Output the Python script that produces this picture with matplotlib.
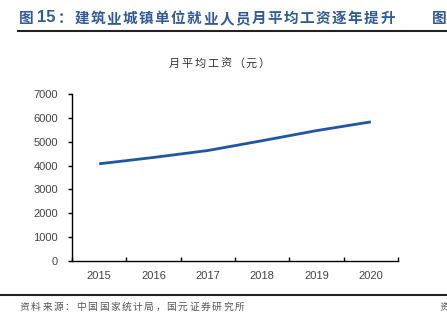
import matplotlib
matplotlib.use("Agg")
import matplotlib.pyplot as plt
from matplotlib.lines import Line2D

plt.rcParams['font.family'] = ['Noto Sans CJK SC', 'DejaVu Sans']

years = ["2015", "2016", "2017", "2018", "2019", "2020"]
wages = [4074, 4340, 4631, 5042, 5465, 5832]
yticks = [0, 1000, 2000, 3000, 4000, 5000, 6000, 7000]

W, H = 447, 326
fig = plt.figure(figsize=(W / 100, H / 100), dpi=100)


def fx(px):
    return px / W


def fy(py):
    return 1 - py / H


def spaced(text, x_center0, pitch, y, **kw):
    for i, ch in enumerate(text):
        fig.text(fx(x_center0 + pitch * i), fy(y), ch, ha="center", va="center", **kw)


ax = fig.add_axes([fx(72), fy(261), fx(398) - fx(72), fy(94) - fy(261)])
x = list(range(len(years)))
ax.plot(x, wages, color="#1F56A8", lw=2.0, solid_capstyle="butt")
ax.set_xlim(-0.5, len(years) - 0.5)
ax.set_ylim(0, 7000)
ax.set_yticks(yticks)
ax.set_yticklabels([str(v) for v in yticks], fontsize=8, color="#444444",
                   family=["Liberation Sans", "DejaVu Sans"])
ax.set_xticks([i - 0.5 for i in range(len(years) + 1)])
ax.set_xticklabels([])
ax.set_xticks(x, minor=True)
ax.set_xticklabels(years, minor=True, fontsize=8, color="#444444",
                   family=["Liberation Sans", "DejaVu Sans"])
ax.tick_params(axis="x", which="major", direction="in", length=3, width=1, color="black")
ax.tick_params(axis="x", which="minor", length=0, pad=7)
ax.tick_params(axis="y", direction="out", length=3, width=1, color="black", pad=7)
for s in ["top", "right"]:
    ax.spines[s].set_visible(False)
for s in ["left", "bottom"]:
    ax.spines[s].set_linewidth(1.0)
    ax.spines[s].set_color("black")

# chart title
spaced("月平均工资（元）", 174, 12.9, 64, fontsize=8, color="#333333")

# page heading
blue = "#2F5A9C"
fig.text(fx(26), fy(18), "图", ha="center", va="center", fontsize=10.5,
         fontweight="bold", color=blue)
fig.text(fx(37.5), fy(18), "15", ha="left", va="center", fontsize=12,
         fontweight="bold", color=blue, family=["Liberation Sans", "DejaVu Sans"])
fig.text(fx(65), fy(18), "：", ha="center", va="center", fontsize=10.5,
         fontweight="bold", color=blue)
spaced("建筑业城镇单位就业人员月平均工资逐年提升", 81.5, 16.1, 18,
       fontsize=10.5, fontweight="bold", color=blue)
fig.text(fx(432), fy(18), "图", ha="left", va="center", fontsize=10.5,
         fontweight="bold", color=blue)

fig.add_artist(Line2D([fx(18), 1], [fy(31), fy(31)], color="#222222", lw=1.5,
                      transform=fig.transFigure))
fig.add_artist(Line2D([fx(0), 1], [fy(294.5), fy(294.5)], color="#222222", lw=1.5,
                      transform=fig.transFigure))

# source
spaced("资料来源：中国国家统计局，国元证券研究所", 24.5, 11.3, 307,
       fontsize=7, color="#555555")
fig.text(fx(440), fy(307), "资", ha="left", va="center", fontsize=7, color="#555555")

fig.savefig("out.png", dpi=100)
